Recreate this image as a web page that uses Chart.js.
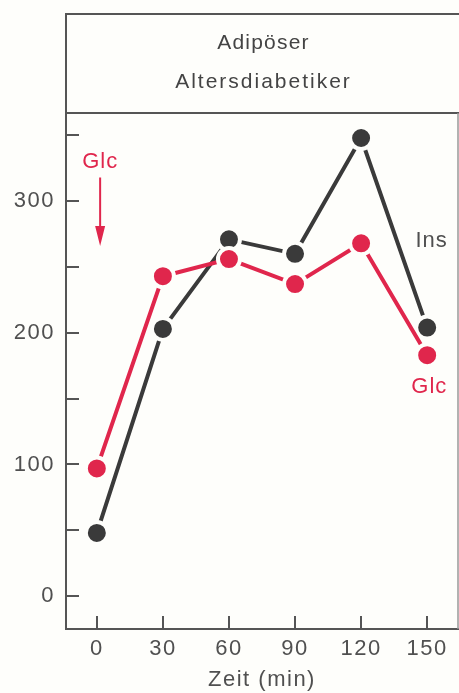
<!DOCTYPE html>
<html>
<head>
<meta charset="utf-8">
<script src="https://cdn.jsdelivr.net/npm/chart.js@4/dist/chart.umd.min.js"></script>
<style>
  html, body { margin: 0; padding: 0; background: #fefefb; }
  #wrap { width: 459px; height: 693px; }
</style>
</head>
<body>
<div id="wrap"><canvas id="c" width="459" height="693"></canvas></div>
<script>
// ---- data ----
const times = [0, 30, 60, 90, 120, 150];
const insValues = [48, 203, 271, 260, 348, 204];
const glcValues = [97, 243, 256, 237, 268, 183];
const xTickValues = [0, 30, 60, 90, 120, 150];
const yTickValues = [0, 50, 100, 150, 200, 250, 300, 350];
const yLabelValues = [0, 100, 200, 300];
const titleLines = ['Adipöser', 'Altersdiabetiker'];
const xAxisTitle = 'Zeit (min)';
// annotation labels: [text, x value, y value]
const glcTopLabel = ['Glc', 1.5, 330];
const glcArrow = [1.5, 318, 266];   // x, from y, to y
const insEndLabel = ['Ins', 152, 270];
const glcEndLabel = ['Glc', 151, 159];

const BG = '#fefefb';
const RED = '#e0264c';
const DARK = '#3a3a3a';
const AXIS = '#555555';
const TEXT = '#505050';
const FONT = '"Liberation Sans", Arial, sans-serif';

const decor = {
  id: 'decor',
  beforeDraw(chart) {
    const ctx = chart.ctx;
    ctx.save();
    ctx.fillStyle = BG;
    ctx.fillRect(0, 0, chart.width, chart.height);
    ctx.restore();
    ctx.letterSpacing = '1.5px';
  },
  afterDraw(chart) {
    const ctx = chart.ctx;
    const a = chart.chartArea;
    const xs = chart.scales.x, ys = chart.scales.y;
    ctx.save();
    // header box
    ctx.strokeStyle = AXIS;
    ctx.lineWidth = 2;
    ctx.beginPath();
    ctx.moveTo(a.left, a.top);
    ctx.lineTo(a.left, 14);
    ctx.lineTo(chart.width, 14);
    ctx.moveTo(a.left, a.top);
    ctx.lineTo(chart.width, a.top);
    ctx.stroke();
    // right border
    ctx.lineWidth = 1.5;
    ctx.strokeStyle = '#999';
    ctx.beginPath();
    ctx.moveTo(a.right, a.top);
    ctx.lineTo(a.right, a.bottom);
    ctx.stroke();
    // header text
    ctx.fillStyle = '#444';
    ctx.textAlign = 'center';
    ctx.textBaseline = 'middle';
    ctx.font = '21px ' + FONT;
    const cx = (a.left + chart.width) / 2;
    ctx.letterSpacing = '1.2px';
    ctx.fillText(titleLines[0], cx + 1, 43);
    ctx.letterSpacing = '2px';
    ctx.fillText(titleLines[1], cx + 1, 82);

    // inward ticks
    ctx.strokeStyle = AXIS;
    ctx.lineWidth = 2;
    ctx.beginPath();
    yTickValues.forEach(v => {
      const y = Math.round(ys.getPixelForValue(v));
      ctx.moveTo(a.left, y);
      ctx.lineTo(a.left + 13, y);
    });
    xTickValues.forEach(v => {
      const x = Math.round(xs.getPixelForValue(v));
      ctx.moveTo(x, a.bottom);
      ctx.lineTo(x, a.bottom - 13);
    });
    ctx.stroke();

    // annotations
    ctx.font = '22px ' + FONT;
    ctx.letterSpacing = '1px';
    ctx.textAlign = 'center';
    ctx.textBaseline = 'middle';
    ctx.fillStyle = RED;
    ctx.fillText(glcTopLabel[0], xs.getPixelForValue(glcTopLabel[1]), ys.getPixelForValue(glcTopLabel[2]));
    ctx.fillText(glcEndLabel[0], xs.getPixelForValue(glcEndLabel[1]), ys.getPixelForValue(glcEndLabel[2]));
    ctx.fillStyle = '#505050';
    ctx.fillText(insEndLabel[0], xs.getPixelForValue(insEndLabel[1]), ys.getPixelForValue(insEndLabel[2]));
    // arrow
    const ax = xs.getPixelForValue(glcArrow[0]);
    const ay1 = ys.getPixelForValue(glcArrow[1]);
    const ay2 = ys.getPixelForValue(glcArrow[2]);
    ctx.strokeStyle = RED;
    ctx.lineWidth = 2;
    ctx.beginPath();
    ctx.moveTo(ax, ay1);
    ctx.lineTo(ax, ay2 - 14);
    ctx.stroke();
    ctx.fillStyle = RED;
    ctx.beginPath();
    ctx.moveTo(ax - 5, ay2 - 20);
    ctx.lineTo(ax + 5, ay2 - 20);
    ctx.lineTo(ax, ay2);
    ctx.closePath();
    ctx.fill();
    ctx.restore();
  }
};

new Chart(document.getElementById('c'), {
  type: 'line',
  data: {
    datasets: [
      {
        label: 'Glc',
        data: times.map((t, i) => ({ x: t, y: glcValues[i] })),
        borderColor: RED,
        backgroundColor: RED,
        borderWidth: 4,
        pointRadius: 11,
        pointBorderWidth: 4,
        pointBorderColor: BG,
        pointBackgroundColor: RED,
        tension: 0
      },
      {
        label: 'Ins',
        data: times.map((t, i) => ({ x: t, y: insValues[i] })),
        borderColor: DARK,
        backgroundColor: DARK,
        borderWidth: 4,
        pointRadius: 11,
        pointBorderWidth: 4,
        pointBorderColor: BG,
        pointBackgroundColor: DARK,
        tension: 0
      }
    ]
  },
  options: {
    responsive: false,
    animation: false,
    devicePixelRatio: 1,
    layout: { autoPadding: false, padding: { top: 113, right: 1, left: 0, bottom: 0 } },
    plugins: {
      legend: { display: false },
      title: { display: false },
      tooltip: { enabled: false }
    },
    scales: {
      x: {
        type: 'linear',
        min: -14,
        max: 164,
        afterBuildTicks: s => { s.ticks = xTickValues.map(v => ({ value: v })); },
        afterFit: s => { s.height = 64; s.paddingLeft = 0; s.paddingRight = 0; },
        grid: { display: false, drawTicks: false },
        border: { display: true, color: AXIS, width: 2 },
        ticks: {
          color: TEXT,
          font: { family: FONT, size: 22 },
          padding: 7,
          maxRotation: 0,
          autoSkip: false
        },
        title: {
          display: true,
          text: xAxisTitle,
          color: TEXT,
          font: { family: FONT, size: 22 },
          padding: { top: 0, bottom: 0 }
        }
      },
      y: {
        type: 'linear',
        min: -25,
        max: 367,
        afterBuildTicks: s => { s.ticks = yTickValues.map(v => ({ value: v })); },
        afterFit: s => { s.width = 66; s.paddingTop = 0; s.paddingBottom = 0; },
        grid: { display: false, drawTicks: false },
        border: { display: true, color: AXIS, width: 2 },
        ticks: {
          color: TEXT,
          font: { family: FONT, size: 22 },
          padding: 11,
          autoSkip: false,
          callback: v => (yLabelValues.includes(v) ? String(v) : '')
        }
      }
    }
  },
  plugins: [decor]
});
</script>
</body>
</html>
